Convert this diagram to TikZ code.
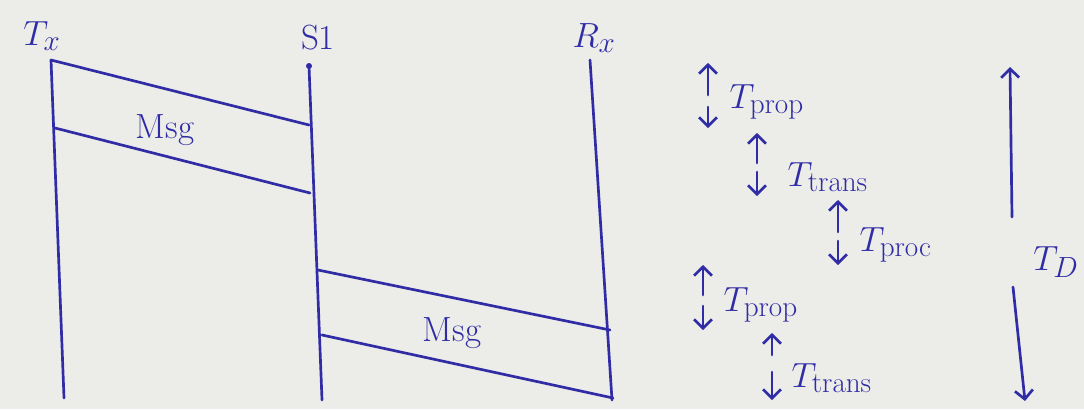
\documentclass[tikz,border=0pt]{standalone}
\usepackage{amsmath}
\usetikzlibrary{arrows.meta,positioning}
\definecolor{inkBlue}{RGB}{48,44,165}
\definecolor{paperGrey}{RGB}{236,236,232}

\begin{document}
\begin{tikzpicture}[x=0.025cm, y=-0.025cm,
  ink/.style={draw=inkBlue, line width=1.9pt, line cap=round},
  tip/.style={ink, -{Straight Barb[length=2.2mm, width=4.5mm]}},
  lbl/.style={text=inkBlue, font=\Huge, inner sep=1pt}]
\fill[paperGrey] (0,0) rectangle (1084,409);
\useasboundingbox (0,0) rectangle (1084,409);

% station names
\node[lbl] (tx) at (42,36) {$T_x$};
\node[lbl] (sw) at (318,38) {S1};
\node[lbl] (rx) at (594,38) {$R_x$};

% station lines
\coordinate (txTop) at (51,60);
\coordinate (txBot) at (64,398);
\coordinate (swTop) at (309,66);
\coordinate (swBot) at (322,400);
\coordinate (rxTop) at (590,60);
\coordinate (rxBot) at (612,400);
\draw[ink] (txTop) -- (txBot);
\draw[ink] (swTop) -- (swBot);
\draw[ink] (rxTop) -- (rxBot);
\fill[inkBlue] (swTop) circle (3);

% first hop
\coordinate (m1a) at (55,128);
\coordinate (m1b) at (309,125);
\coordinate (m1c) at (310,193);
\draw[ink] (txTop) -- (m1b);
\draw[ink] (m1a) -- (m1c);
\node[lbl] (msgA) at (165,130) {Msg};

% second hop
\coordinate (m2a) at (318,270);
\coordinate (m2b) at (322,335);
\coordinate (m2c) at (610,330);
\coordinate (m2d) at (613,398);
\draw[ink] (m2a) -- (m2c);
\draw[ink] (m2b) -- (m2d);
\node[lbl] (msgB) at (452,333) {Msg};

% delay pieces
\node[lbl, anchor=west] (prop1) at (728,102) {$T_{\mathrm{prop}}$};
\coordinate (p1u) at (708,95);
\coordinate (p1d) at (708,107);
\draw[tip] (p1u) -- (708,63);
\draw[tip] (p1d) -- (708,128);

\node[lbl, anchor=west] (trans1) at (786,177) {$T_{\mathrm{trans}}$};
\coordinate (t1u) at (757,163);
\coordinate (t1d) at (757,172);
\draw[tip] (t1u) -- (757,133);
\draw[tip] (t1d) -- (757,196);

\node[lbl, anchor=west] (proc) at (858,245) {$T_{\mathrm{proc}}$};
\coordinate (pcu) at (838,232);
\coordinate (pcd) at (838,241);
\draw[tip] (pcu) -- (838,200);
\draw[tip] (pcd) -- (838,265);

\node[lbl, anchor=west] (prop2) at (722,305) {$T_{\mathrm{prop}}$};
\coordinate (p2u) at (703,295);
\coordinate (p2d) at (703,306);
\draw[tip] (p2u) -- (703,265);
\draw[tip] (p2d) -- (703,330);

\node[lbl, anchor=west] (trans2) at (790,378) {$T_{\mathrm{trans}}$};
\coordinate (t2u) at (772,355);
\coordinate (t2d) at (772,372);
\draw[tip] (t2u) -- (772,333);
\draw[tip] (t2d) -- (772,400);

% total delay
\node[lbl] (total) at (1056,262) {$T_D$};
\coordinate (dUp) at (1012,217);
\coordinate (dDown) at (1013,287);
\draw[tip] (dUp) -- (1010,67);
\draw[tip] (dDown) -- (1025,401);
\end{tikzpicture}
\end{document}
